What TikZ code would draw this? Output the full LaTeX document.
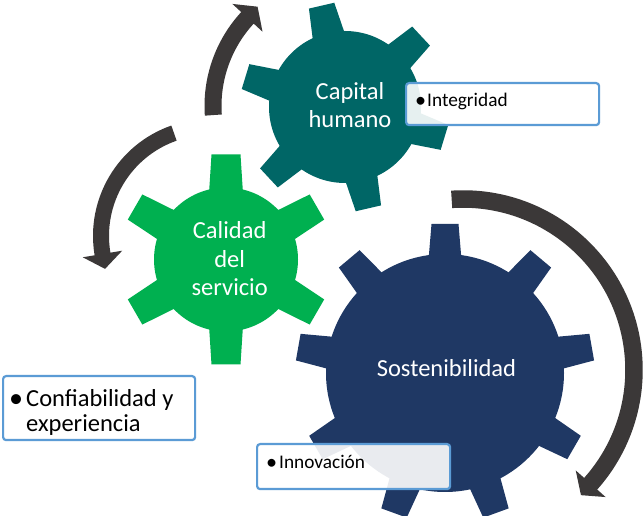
\documentclass[tikz,border=0pt]{standalone}
\usepackage{fontspec}
\setmainfont{Carlito}
\definecolor{tealgear}{RGB}{0,102,102}
\definecolor{greengear}{RGB}{0,176,80}
\definecolor{navygear}{RGB}{31,56,100}
\definecolor{arrowgray}{RGB}{59,56,56}
\definecolor{boxblue}{RGB}{91,155,213}
\newcommand{\bigbul}{\raisebox{-0.04em}{\scalebox{1.15}{•}}}
% #1 cx, #2 cy, #3 rbody, #4 rtip, #5 teeth, #6 first tooth angle, #7 half base, #8 half tip, #9 colour
\newcommand{\drawgear}[9]{%
  \begin{scope}[shift={(#1,#2)}]
    \fill[#9] (0,0) circle[radius=#3];
    \foreach \k in {1,...,#5}{
      \fill[#9, rotate={#6+360/#5*\k}] ({#3-6},-#7) -- (#4,-#8) -- (#4,#8) -- ({#3-6},#7) -- cycle;
    }
  \end{scope}}
\begin{document}
\begin{tikzpicture}[x=1pt,y=1pt,
  arrowfill/.style={fill=arrowgray},
  bulletbox/.style={draw=boxblue, line width=2.2pt, rounded corners=3pt, fill=white, fill opacity=0.9, inner sep=0pt, anchor=north west},
  gearlabel/.style={text=white, font=\fontsize{24.5}{28.5}\selectfont, align=center, inner sep=0pt, anchor=base},
  smalltext/.style={text=black, font=\fontsize{19.3}{23}\selectfont, inner sep=0pt, anchor=base west},
  bigtext/.style={text=black, font=\fontsize{24.5}{25}\selectfont, align=left, inner sep=0pt, anchor=base west}]
\fill[white] (0,0) rectangle (643,516);
\useasboundingbox (0,0) rectangle (643,516);

% gears
\drawgear{345}{409}{76}{104}{6}{103}{16.5}{13}{tealgear}
\drawgear{226}{256.5}{72}{105}{6}{90}{17}{14.5}{greengear}
\drawgear{445}{143}{119}{149}{9}{90}{16.5}{13.5}{navygear}

% circular arrows
\fill[arrowfill, shift={(343,410)}] (184:138.5) arc[start angle=184, end angle=137.3, radius=138.5]
  -- (137.3:150.5) -- (130.7:131) -- (137.3:109.5) -- (137.3:121.5)
  arc[start angle=137.3, end angle=184, radius=121.5] -- cycle;
\fill[arrowfill, shift={(210,280)}] (109.3:117) arc[start angle=109.3, end angle=189.5, radius=117]
  -- (189.5:129) -- (197.4:110) -- (189.5:89) -- (189.5:101)
  arc[start angle=189.5, end angle=109.3, radius=101] -- cycle;
\fill[arrowfill, shift={(463,146)}] (93.8:179.75) arc[start angle=93.8, end angle=-41.7, radius=179.75]
  -- (-41.7:191) -- (-46.7:172) -- (-41.7:151) -- (-41.7:162.25)
  arc[start angle=-41.7, end angle=93.8, radius=162.25] -- cycle;

% gear labels (base anchor = baseline of the last line)
\node[gearlabel] (capital) at (350,388.3) {Capital\\humano};
\node[gearlabel] (calidad) at (229.7,220) {Calidad\\del\\servicio};
\node[gearlabel] (sosten) at (446.5,139.3) {Sostenibilidad};

% bullet boxes
\node[bulletbox, minimum width=193pt, minimum height=42pt] (intbox) at (405,434) {};
\node[smalltext] (inttext) at (415,409) {\makebox[12pt][l]{\bigbul}Integridad};
\node[bulletbox, minimum width=193pt, minimum height=45pt] (innbox) at (256,73) {};
\node[smalltext] (inntext) at (266,47) {\makebox[13pt][l]{\bigbul}Innovación};
\node[bulletbox, minimum width=192pt, minimum height=64pt] (confbox) at (2,141) {};
\node[bigtext] (conftext) at (26,84.3) {\llap{\bigbul\hspace{3pt}}Confiabilidad y\\experiencia};
\end{tikzpicture}
\end{document}
